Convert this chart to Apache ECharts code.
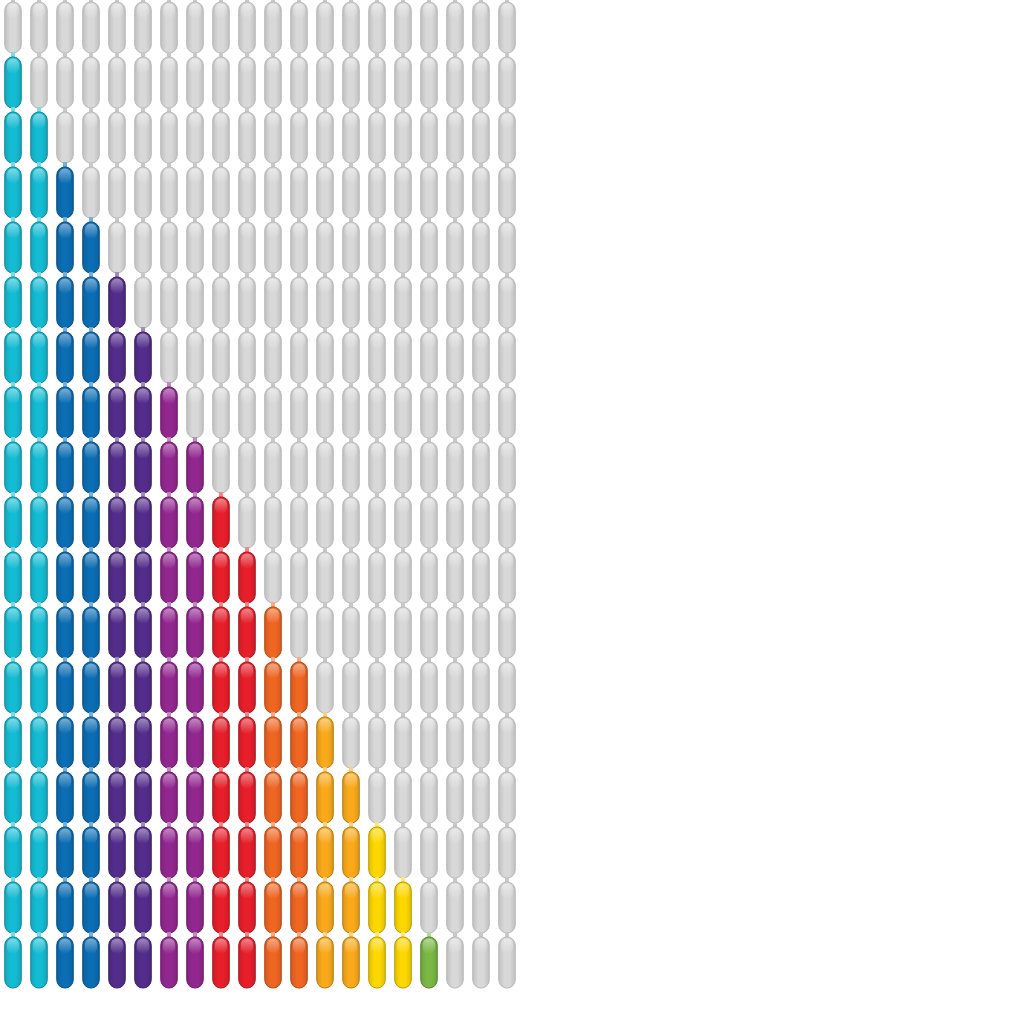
<!DOCTYPE html>
<html><head><meta charset="utf-8">
<script src="https://cdn.jsdelivr.net/npm/echarts@6/dist/echarts.min.js"></script>
<style>html,body{margin:0;padding:0;background:#fff}#c{width:1024px;height:1024px}</style>
</head><body><div id="c"></div>
<script>
const columnCount = 20;
const rowCount = 18;
const filledPerRow = [0,1,2,3,4,5,6,7,8,9,10,11,12,13,14,15,16,17];
const columnColors = ['#14bcd3','#14bcd3','#0b6db3','#0b6db3','#532d8b','#532d8b','#932790','#932790','#e71f2a','#e71f2a','#ef6522','#ef6522','#f9a91a','#f9a91a','#fdd700','#fdd700','#7ab843','#d8d8d8','#d8d8d8','#d8d8d8'];
const emptyColor = '#d8d8d8';

const data = [];
for (let r = 0; r < rowCount; r++) {
  for (let c = 0; c < columnCount; c++) {
    data.push([c, r, c < filledPerRow[r] ? 1 : 0]);
  }
}
function shade(hex, f) {
  const n = parseInt(hex.slice(1), 16);
  let r = (n >> 16) & 255, g = (n >> 8) & 255, b = n & 255;
  if (f < 0) { r = r * (1 + f); g = g * (1 + f); b = b * (1 + f); }
  else { r = r + (255 - r) * f; g = g + (255 - g) * f; b = b + (255 - b) * f; }
  return 'rgb(' + Math.round(r) + ',' + Math.round(g) + ',' + Math.round(b) + ')';
}
const chart = echarts.init(document.getElementById('c'));
chart.setOption({
  animation: false,
  grid: { left: 0, top: 0, width: 520, height: 990 },
  xAxis: { type: 'value', min: -0.5, max: columnCount - 0.5, show: false },
  yAxis: { type: 'value', min: -0.5, max: rowCount - 0.5, inverse: true, show: false },
  series: [{
    type: 'custom',
    data: data,
    renderItem: function (params, api) {
      const c = api.value(0), r = api.value(1), on = api.value(2);
      const p = api.coord([c, r]);
      const sz = api.size([1, 1]);
      const pw = sz[0] * 0.635, ph = sz[1] * 0.93;
      const base = on ? columnColors[c] : emptyColor;
      const x = p[0] - pw / 2, y = p[1] - ph / 2;
      const neckH = sz[1] - ph;
      return {
        type: 'group',
        children: [
          { type: 'rect', shape: { x: p[0] - 2, y: y - neckH - 1, width: 4, height: neckH + 2 },
            style: { fill: on ? shade(base, 0.45) : '#c8c8c8' } },
          { type: 'rect', shape: { x: x, y: y, width: pw, height: ph, r: pw / 2 },
            style: {
              fill: { type: 'linear', x: 0, y: 0, x2: 1, y2: 0, colorStops: [
                { offset: 0, color: shade(base, -0.12) },
                { offset: 0.35, color: base },
                { offset: 0.65, color: base },
                { offset: 1, color: shade(base, -0.12) } ] },
              stroke: shade(base, on ? -0.28 : -0.15), lineWidth: 1
            } },
          { type: 'rect', shape: { x: x + 2, y: y + 1.5, width: pw - 4, height: ph * 0.3, r: (pw - 4) / 2 },
            style: {
              fill: { type: 'linear', x: 0, y: 0, x2: 0, y2: 1, colorStops: [
                { offset: 0, color: 'rgba(255,255,255,0.45)' },
                { offset: 1, color: 'rgba(255,255,255,0)' } ] }
            } }
        ]
      };
    }
  }]
});
</script></body></html>
